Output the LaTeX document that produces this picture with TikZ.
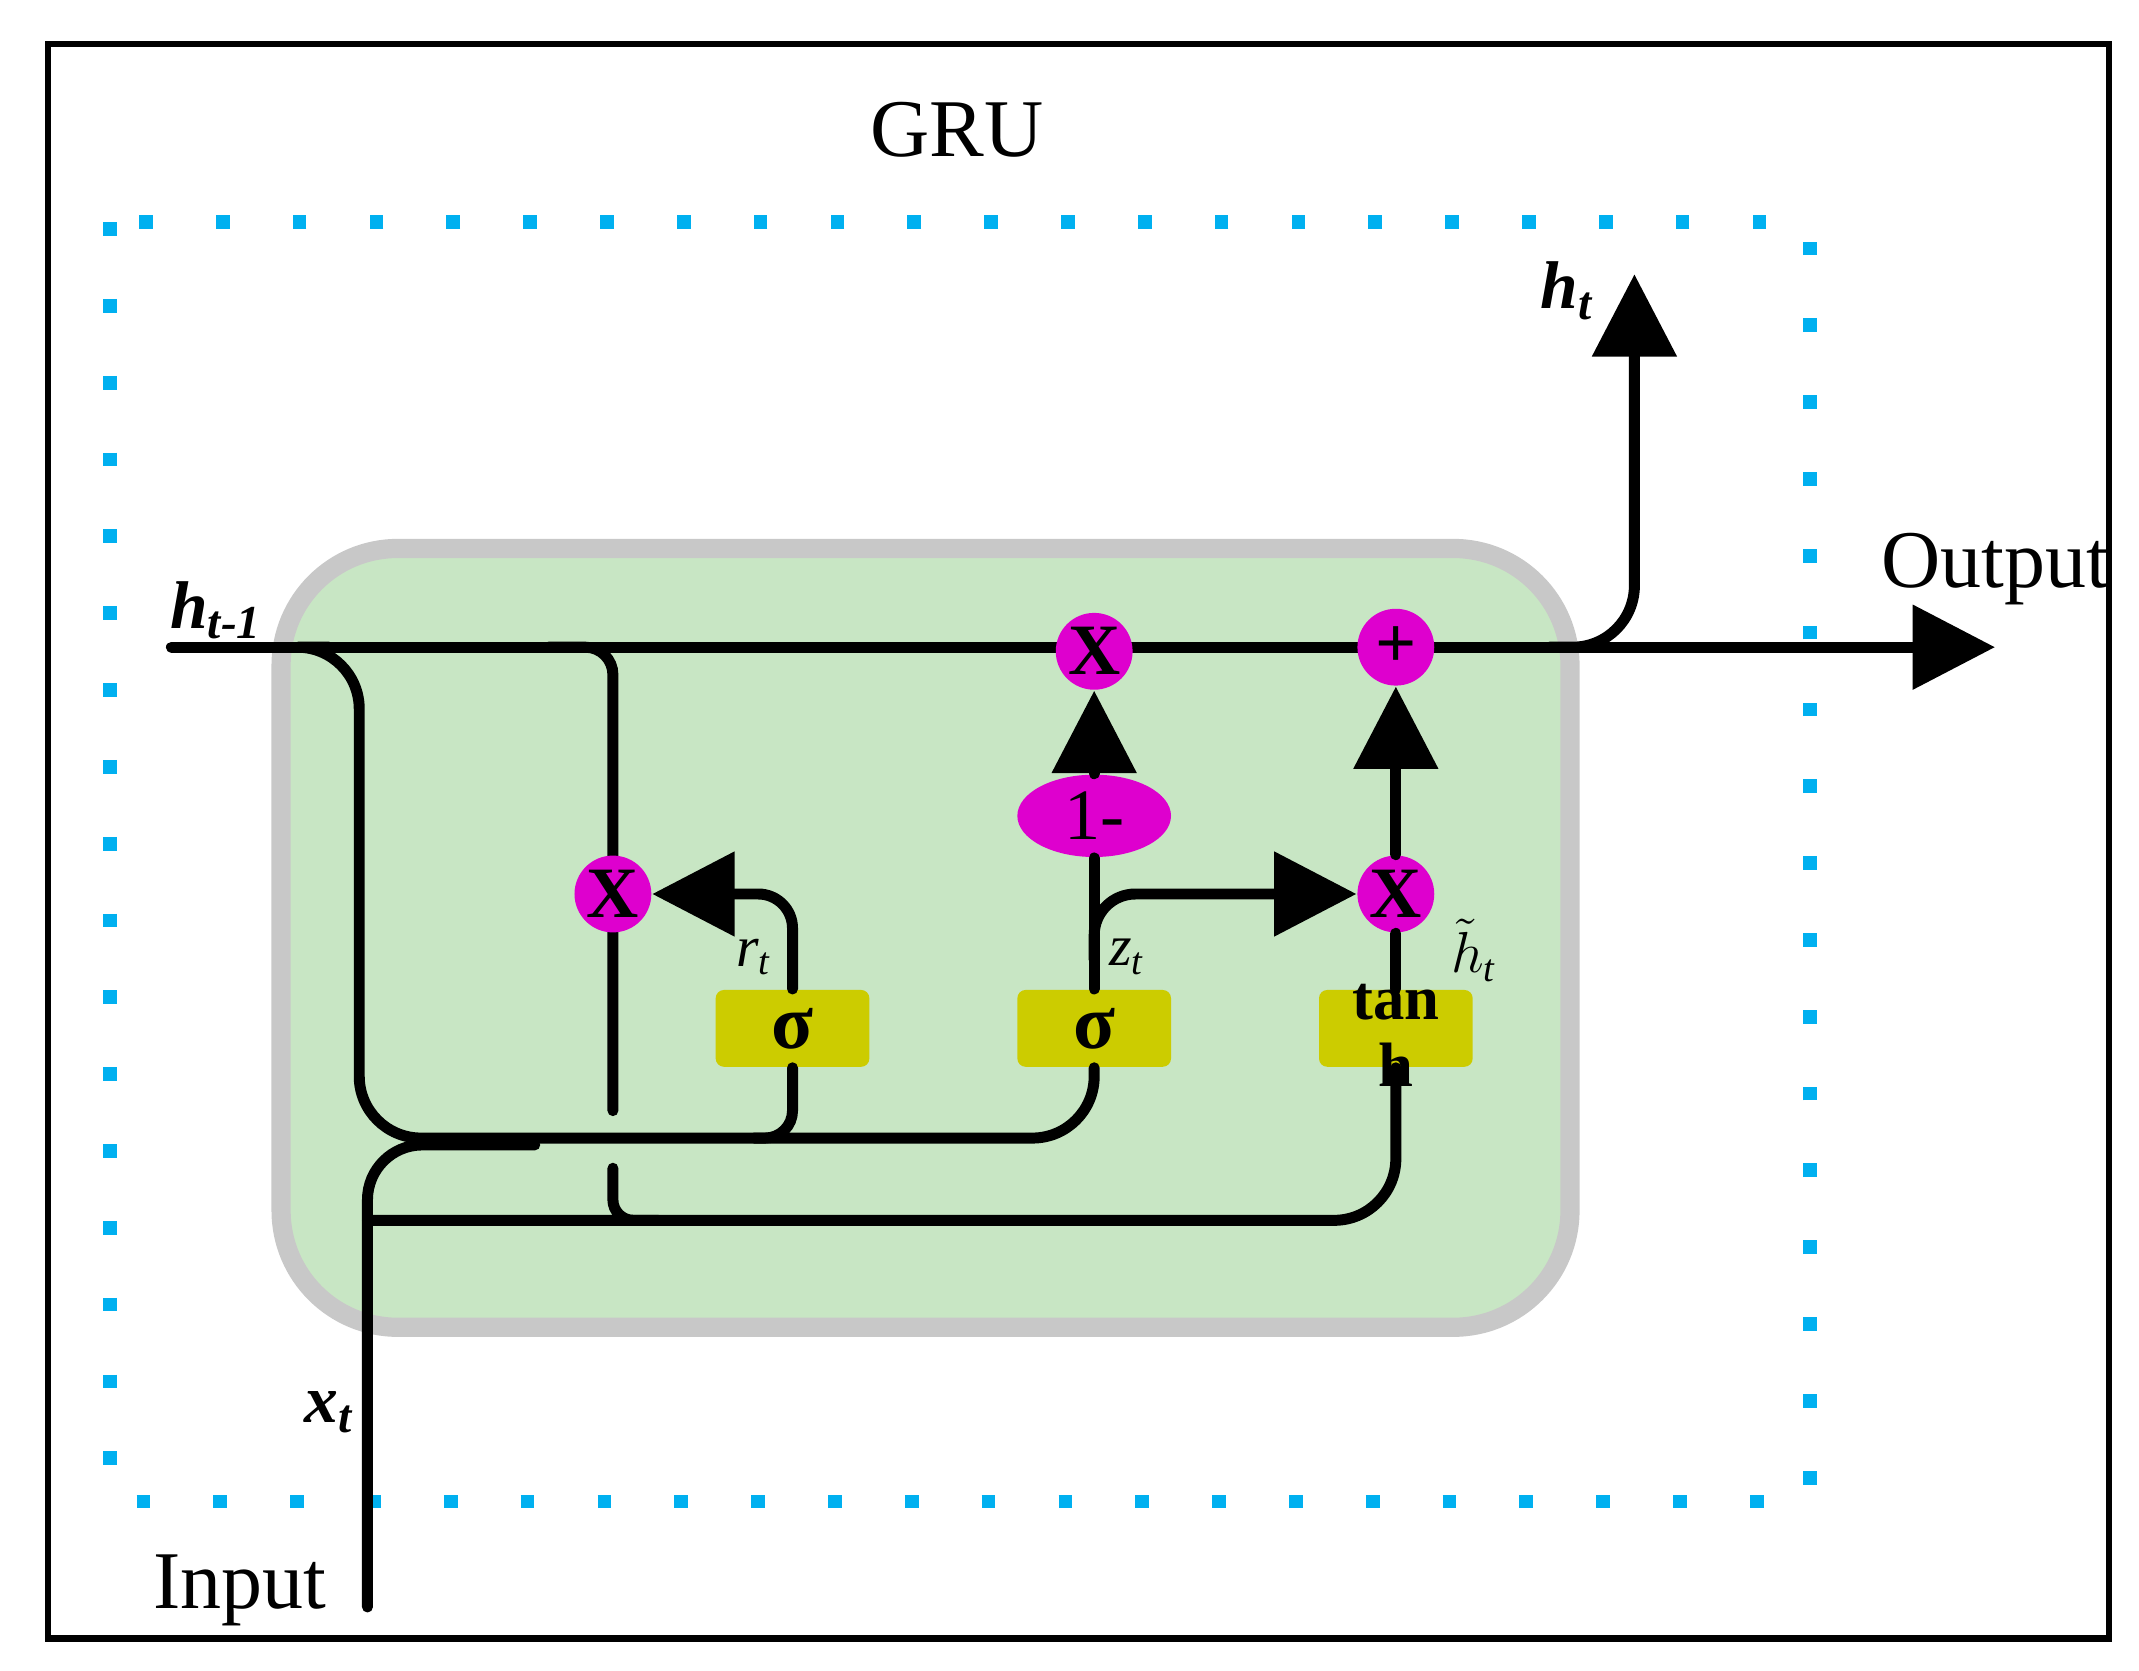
\documentclass[tikz,border=0pt]{standalone}
\usepackage{fontspec}
\setmainfont{Liberation Serif}
\usetikzlibrary{arrows.meta,shapes.geometric}
\definecolor{dotblue}{RGB}{0,176,240}
\definecolor{cellgreen}{RGB}{200,230,196}
\definecolor{cellgray}{RGB}{200,200,200}
\definecolor{gate}{RGB}{204,204,0}
\definecolor{op}{RGB}{222,0,206}
\begin{document}
\begin{tikzpicture}[x=0.01cm,y=-0.01cm,
  ln/.style={line width=0.08cm,line cap=round},
  arr/.style={ln,-{Triangle[length=0.6cm,width=0.6cm]}},
  box/.style={fill=gate,rounded corners=0.06cm,minimum width=1.12cm,minimum height=0.56cm,inner sep=0pt,font=\bfseries\fontsize{16}{16}\selectfont},
  circ/.style={circle,fill=op,minimum size=0.56cm,inner sep=0pt,font=\bfseries\fontsize{15}{15}\selectfont},
  lab/.style={font=\itshape\fontsize{12}{12}\selectfont}]
\useasboundingbox (0,0) rectangle (1560,1218);
\draw[line width=0.045cm] (35,32) rectangle (1538,1195);
\node (title) at (698,95) {\fontsize{17}{17}\selectfont GRU};
\draw[dotblue,line width=0.1cm,dash pattern=on 0.1cm off 0.46cm] (80,162) rectangle (1320,1095);
\draw[cellgray,fill=cellgreen,line width=0.14cm,rounded corners=0.85cm] (205,400) rectangle (1145,968);
\coordinate (hin) at (125,472);
\coordinate (out) at (1455,472);
\coordinate (hup) at (1192,200);
\coordinate (xin) at (268,1172);
\node[box] (sr) at (578,750) {σ};
\node[box] (sz) at (798,750) {σ};
\node[box,font=\bfseries\fontsize{13}{14}\selectfont,align=center] (st) at (1018,750) {};
\node[font=\bfseries\fontsize{13}{14}\selectfont,align=center] at (1018,755) {tan\\h};
\draw[arr] (hin) -- (out);
\draw[arr,rounded corners=0.45cm] (1130,472) -| (hup);
\draw[ln,rounded corners=0.45cm] (240,472) -| (262,830) -| (sz.south);
\draw[ln,rounded corners=0.2cm] (550,830) -| (sr.south);
\draw[ln,rounded corners=0.2cm] (400,472) -| (447,810);
\draw[ln,rounded corners=0.4cm] (xin) |- (390,835);
\draw[ln,rounded corners=0.45cm] (268,890) -| (st.south);
\draw[ln,rounded corners=0.15cm] (447,852) |- (480,890);
\node[circ] (mr) at (447,652) {X};
\node[circ] (mz) at (798,475) {X};
\node[circ] (pl) at (1018,472) {+};
\node[circ] (mt) at (1018,652) {X};
\node[ellipse,fill=op,minimum width=1.12cm,minimum height=0.6cm,inner sep=0pt,font=\fontsize{15}{15}\selectfont] (om) at (798,595) {1-};
\draw[arr,rounded corners=0.25cm] (sr.north) |- (mr.east);
\draw[ln] (sz.north) -- (om.south);
\draw[arr] (om.north) -- (mz.south);
\draw[arr,rounded corners=0.3cm] (798,700) |- (mt.west);
\draw[ln] (st.north) -- (mt.south);
\draw[arr] (mt.north) -- (pl.south);
\node[font=\bfseries\itshape\fontsize{14}{14}\selectfont] (lh1) at (158,445) {h\textsubscript{t-1}};
\node[font=\bfseries\itshape\fontsize{14}{14}\selectfont] (lht) at (1143,212) {h\textsubscript{t}};
\node[font=\bfseries\itshape\fontsize{14}{14}\selectfont] (lxt) at (240,1030) {x\textsubscript{t}};
\node[lab] (lr) at (550,698) {r\textsubscript{t}};
\node[lab] (lz) at (822,698) {z\textsubscript{t}};
\node[lab] (lh) at (1075,693) {$\tilde{h}$\textsubscript{t}};
\node[font=\fontsize{17}{17}\selectfont] (lout) at (1455,415) {Output};
\node[font=\fontsize{17}{17}\selectfont] (lin) at (175,1160) {Input};
\end{tikzpicture}
\end{document}
